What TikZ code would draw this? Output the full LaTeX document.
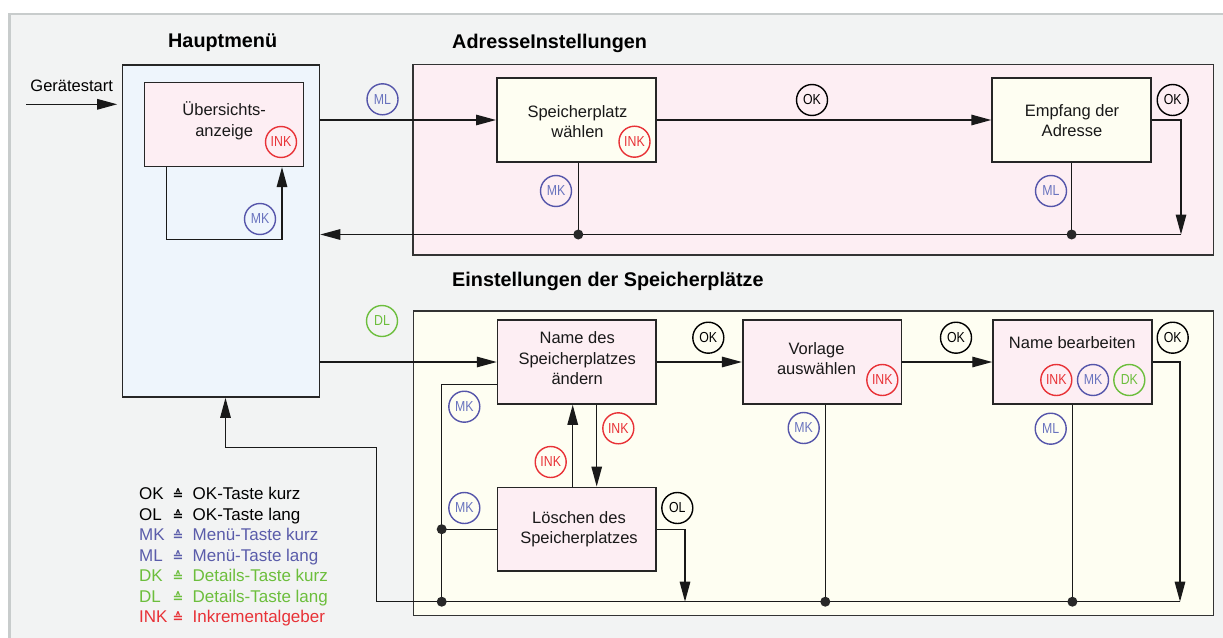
\documentclass[tikz,border=0pt]{standalone}
\usepackage{fontspec}
\setmainfont{Liberation Sans}
\newfontfamily\badgefont[FakeStretch=0.85]{Liberation Sans}
\newfontfamily\symfont{DejaVu Sans}
\usetikzlibrary{arrows.meta}
\definecolor{bgc}{RGB}{242,243,243}
\definecolor{framec}{RGB}{200,204,204}
\definecolor{hauptc}{RGB}{238,245,252}
\definecolor{pinkc}{RGB}{253,238,243}
\definecolor{creamc}{RGB}{254,254,242}
\definecolor{blueS}{RGB}{85,85,170}
\definecolor{blueT}{RGB}{105,115,190}
\definecolor{blueL}{RGB}{90,92,170}
\definecolor{redC}{RGB}{232,50,55}
\definecolor{greenC}{RGB}{108,190,60}
\definecolor{dotc}{RGB}{40,40,40}
\tikzset{
 box/.style={draw=black!85, line width=1.6pt, inner sep=0pt},
 conn/.style={line width=1.4pt, draw=black!90},
 arr/.style={conn, -{Triangle[length=20pt,width=10.5pt]}},
 badge/.style={circle, draw, line width=1.4pt, minimum size=31pt, inner sep=0pt, font=\badgefont\fontsize{14.5}{14.5}\selectfont},
 bk/.style={badge, draw=black, text=black},
 bl/.style={badge, draw=blueS, text=blueT},
 rd/.style={badge, draw=redC, text=redC},
 gr/.style={badge, draw=greenC, text=greenC},
 btxt/.style={align=center, font=\fontsize{16.5}{20.5}\selectfont, text=black!90, inner sep=0pt},
 title/.style={font=\bfseries\fontsize{19.8}{22}\selectfont, anchor=base west, inner sep=0pt},
 leg/.style={anchor=base west, font=\fontsize{17}{20}\selectfont, inner sep=0pt},
 legsym/.style={anchor=base, font=\symfont\bfseries\fontsize{13}{14}\selectfont, inner sep=0pt},
 dotmark/.style={fill=dotc}
}
\begin{document}
\begin{tikzpicture}[x=1pt,y=-1pt]
\useasboundingbox (0,0) rectangle (1223,637);
\clip (0,0) rectangle (1223,637);
\fill[white] (0,0) rectangle (1223,637);
\draw[fill=bgc, draw=framec, line width=2.2pt] (9.5,14) rectangle (1260,680);

% frames
\draw[fill=pinkc, draw=black!80, line width=1.5pt] (413,64.3) rectangle (1213.5,255);
\draw[fill=creamc, draw=black!80, line width=1.5pt] (413.5,311) rectangle (1213.3,615.7);

% titles
\node[title] (t1) at (168,47.8) {Hauptmenü};
\node[title] (t2) at (452,48) {AdresseInstellungen};
\node[title] (t3) at (452,286) {Einstellungen der Speicherplätze};

% boxes
\node[box, fill=hauptc, minimum width=197pt, minimum height=332pt] (haupt) at (221,231) {};
\node[box, fill=pinkc, minimum width=159pt, minimum height=84pt] (ueber) at (224,124.3) {};
\node[box, fill=creamc, minimum width=159pt, minimum height=84.5pt] (spw) at (576.3,120) {};
\node[box, fill=creamc, minimum width=159pt, minimum height=84.5pt] (empf) at (1071.6,120) {};
\node[box, fill=pinkc, minimum width=158.5pt, minimum height=84pt] (name) at (576.8,362) {};
\node[box, fill=pinkc, minimum width=158.6pt, minimum height=84pt] (vorl) at (822,362) {};
\node[box, fill=pinkc, minimum width=158.7pt, minimum height=84pt] (bearb) at (1072.4,362) {};
\node[box, fill=pinkc, minimum width=158.5pt, minimum height=83.7pt] (loesch) at (576.8,529.2) {};

% box texts
\node[btxt] (ueber-t) at (224.2,121) {Übersichts-\\anzeige};
\node[btxt] (spw-t) at (577.5,121.5) {Speicherplatz\\wählen};
\node[btxt] (empf-t) at (1072,120.5) {Empfang der\\Adresse};
\node[btxt] (name-t) at (577.2,358.5) {Name des\\Speicherplatzes\\ändern};
\node[btxt] (vorl-t) at (816.5,358.5) {Vorlage\\auswählen};
\node[btxt] (bearb-t) at (1072.2,343) {Name bearbeiten};
\node[btxt] (loesch-t) at (579,529) {Löschen des\\Speicherplatzes};

% Geraetestart
\node[font=\fontsize{16.5}{20}\selectfont, inner sep=0pt] (gst) at (71.7,85.5) {Gerätestart};
\coordinate (gs) at (26,104.3);
\draw[arr, shorten >=4.5pt] (gs) -- (gs -| haupt.west);

% Hauptmenue loop
\coordinate (l1) at (166.7,239.3);
\coordinate (l2) at (282,239.3);
\draw[arr] (ueber.south -| l1) -- (l1) -- (l2) -- (ueber.south -| l2);

% top section connectors
\draw[arr] (haupt.east |- spw.west) -- (spw.west);
\draw[arr] (spw.east) -- (empf.west);
\coordinate (rA) at (1181,234.5);
\draw[arr] (empf.east) -| (rA);
\draw[arr] (rA) -- (rA -| haupt.east);
\coordinate (dA1) at ([xshift=2pt]spw.south |- rA);
\coordinate (dA2) at (empf.south |- rA);
\draw[conn] ([xshift=2pt]spw.south) -- (dA1);
\draw[conn] (empf.south) -- (dA2);
\fill[dotmark] (dA1) circle (5pt);
\fill[dotmark] (dA2) circle (5pt);

% lower section connectors
\draw[arr] (haupt.east |- name.west) -- (name.west);
\draw[arr] (name.east) -- (vorl.west);
\draw[arr] (vorl.east) -- (bearb.west);
\coordinate (rB) at (1180,601.7);
\draw[arr] (bearb.east) -| (rB);
\coordinate (bL) at (376.7,601.7);
\coordinate (bT) at (376.7,447.7);
\coordinate (bH) at (225.5,447.7);
\draw[arr] (rB) -- (bL) -- (bT) -- (bH) -- (bH |- haupt.south);
\coordinate (vL) at (441.7,601.7);
\draw[conn] ([yshift=-22.3pt]name.west) -| (vL);
\coordinate (vM) at (vL |- loesch.west);
\draw[conn] (loesch.west) -- (vM);
\coordinate (dV) at ([xshift=3.3pt]vorl.south |- rB);
\coordinate (dB) at (bearb.south |- rB);
\draw[conn] ([xshift=3.3pt]vorl.south) -- (dV);
\draw[conn] (bearb.south) -- (dB);
\draw[arr] ([xshift=-4.1pt]loesch.north) -- ([xshift=-4.1pt]name.south);
\draw[arr] ([xshift=19.9pt]name.south) -- ([xshift=19.9pt]loesch.north);
\coordinate (rC) at (685,601.7);
\draw[arr] (loesch.east) -| (rC);
\foreach \p in {vL,vM,dV,dB} \fill[dotmark] (\p) circle (5pt);

% badges
\node[rd] (b1) at (281,142) {INK};
\node[bl] (b2) at (260,219) {MK};
\node[bl] (b3) at (382.5,99.3) {ML};
\node[rd] (b4) at (634.5,141.7) {INK};
\node[bk] (b5) at (812,100) {OK};
\node[bk] (b6) at (1172.7,100) {OK};
\node[bl] (b7) at (556,191) {MK};
\node[bl] (b8) at (1051,191) {ML};
\node[gr] (b9) at (382,321) {DL};
\node[bk] (b10) at (708.3,337.7) {OK};
\node[bk] (b11) at (956,337.7) {OK};
\node[bk] (b12) at (1172.7,337.7) {OK};
\node[rd] (b13) at (882.3,380) {INK};
\node[rd] (b14) at (1056.3,380) {INK};
\node[bl] (b15) at (1093,380) {MK};
\node[gr] (b16) at (1129.3,380) {DK};
\node[bl] (b17) at (803.7,428) {MK};
\node[bl] (b18) at (1050.7,428.7) {ML};
\node[bl] (b19) at (464.3,406.7) {MK};
\node[bl] (b20) at (464.3,508) {MK};
\node[rd] (b21) at (550.7,462) {INK};
\node[rd] (b22) at (618.3,428.3) {INK};
\node[bk] (b23) at (677.3,508) {OL};

% legend
\foreach \i/\ab/\txt/\col in {0/OK/OK-Taste kurz/black, 1/OL/OK-Taste lang/black, 2/MK/Menü-Taste kurz/blueL, 3/ML/Menü-Taste lang/blueL, 4/DK/Details-Taste kurz/greenC, 5/DL/Details-Taste lang/greenC, 6/INK/Inkrementalgeber/redC}{
  \node[leg, text=\col] (la\i) at (139,499.5+20.55*\i) {\ab};
  \node[legsym, text=\col] (ls\i) at (178,499.5+20.55*\i) {≙};
  \node[leg, text=\col] (lt\i) at (192.5,499.5+20.55*\i) {\txt};
}
\end{tikzpicture}
\end{document}
